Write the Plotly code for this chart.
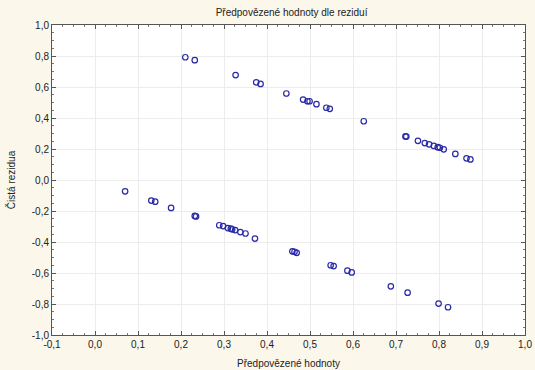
import plotly.graph_objects as go

# predicted values (x) and raw residuals (y)
pred_upper = [0.210, 0.232, 0.327, 0.375, 0.385, 0.445, 0.484, 0.494, 0.499, 0.515,
              0.538, 0.546, 0.625, 0.722, 0.724, 0.751, 0.767, 0.777, 0.788, 0.797,
              0.802, 0.811, 0.838, 0.864, 0.873]
resid_upper = [0.792, 0.773, 0.677, 0.630, 0.620, 0.558, 0.519, 0.508, 0.508, 0.489,
               0.466, 0.459, 0.379, 0.281, 0.280, 0.253, 0.238, 0.230, 0.220, 0.212,
               0.208, 0.198, 0.168, 0.140, 0.133]
pred_lower = [0.070, 0.131, 0.140, 0.177, 0.232, 0.235, 0.289, 0.298, 0.309, 0.316,
              0.319, 0.326, 0.338, 0.350, 0.372, 0.459, 0.464, 0.469, 0.548, 0.555,
              0.587, 0.597, 0.688, 0.727, 0.799, 0.821]
resid_lower = [-0.073, -0.133, -0.140, -0.180, -0.232, -0.235, -0.292, -0.297, -0.310, -0.314,
               -0.318, -0.323, -0.336, -0.345, -0.378, -0.460, -0.463, -0.470, -0.550, -0.555,
               -0.585, -0.596, -0.686, -0.727, -0.797, -0.821]

x_vals = pred_upper + pred_lower
y_vals = resid_upper + resid_lower

x_ticks = [round(-0.1 + 0.1 * i, 1) for i in range(12)]
y_ticks = [round(-1.0 + 0.2 * i, 1) for i in range(11)]

fig = go.Figure()
fig.add_trace(go.Scatter(
    x=x_vals, y=y_vals, mode="markers",
    marker=dict(symbol="circle-open", size=5.5, color="#2a2aa8", line=dict(width=1.2)),
    showlegend=False,
))

axis_common = dict(
    showline=True, linecolor="#555555", linewidth=1, mirror="ticks",
    ticks="inside", ticklen=4, tickcolor="#555555",
    showgrid=True, gridcolor="#ececec", gridwidth=1,
    zeroline=False, automargin=False,
    tickfont=dict(family="Liberation Sans, Arial", size=10, color="#222222"),
)

fig.update_xaxes(
    range=[-0.1, 1.0], tickvals=x_ticks,
    ticktext=[f"{v:.1f}".replace(".", ",") for v in x_ticks],
    minor=dict(dtick=0.025, ticks="inside", ticklen=2, tickcolor="#777777", showgrid=False),
    title=dict(text="Předpovězené hodnoty", standoff=10,
               font=dict(family="Liberation Sans, Arial", size=10, color="#222222")),
    **axis_common,
)
fig.update_yaxes(
    range=[-1.0, 1.0], tickvals=y_ticks,
    ticktext=[f"{v:.1f}".replace(".", ",") for v in y_ticks],
    minor=dict(dtick=0.05, ticks="inside", ticklen=2, tickcolor="#777777", showgrid=False),
    title=dict(text="Čistá rezidua", standoff=14,
               font=dict(family="Liberation Sans, Arial", size=10, color="#222222")),
    **axis_common,
)

fig.update_layout(
    width=535, height=370,
    margin=dict(l=52, r=10, t=25, b=35),
    paper_bgcolor="#fbf7ea",
    plot_bgcolor="#ffffff",
    title=dict(text="Předpovězené hodnoty dle reziduí", x=0.545, xanchor="center",
               y=0.975, yanchor="top",
               font=dict(family="Liberation Sans, Arial", size=10, color="#222222")),
)

fig.write_html("out.html")
